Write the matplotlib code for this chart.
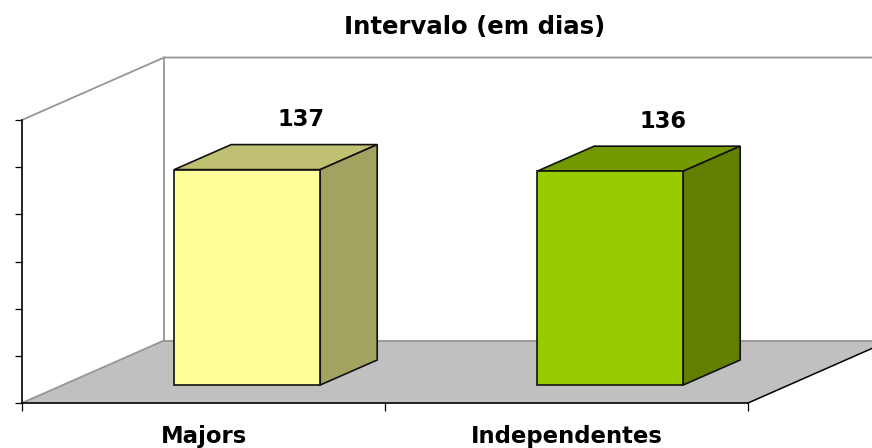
import matplotlib
matplotlib.use("Agg")
import matplotlib.pyplot as plt
from matplotlib.patches import Polygon

# Data
categories = ["Majors", "Independentes"]
values = [137, 136]
front_colors = ["#FFFF99", "#99CC00"]
top_colors = ["#C0C073", "#739900"]
side_colors = ["#A3A361", "#627F00"]
y_ticks = [0, 30, 60, 90, 120, 150, 180]

W, H = 872, 448
fig = plt.figure(figsize=(W / 100, H / 100), dpi=100)
ax = fig.add_axes([22 / W, 1 - 403 / H, 726 / W, 283 / H])
ax.set_xlim(-0.5, 1.5)
ax.set_ylim(0, 180)
ax.patch.set_visible(False)

# depth of the fake 3D box, in data units
depth_x = 142 / 363
depth_y = 62.5 * 180 / 283
bar_w = 146 / 363
bar_shift = 43.7 / 363
bar_lift = 18 * 180 / 283
bar_dx = 57 / 363
bar_dy = 25 * 180 / 283


def poly(pts, **kw):
    p = Polygon(pts, closed=True, clip_on=False, **kw)
    ax.add_patch(p)


# floor and walls
x0, x1 = ax.get_xlim()
poly([(x0, 0), (x1, 0), (x1 + depth_x, depth_y), (x0 + depth_x, depth_y)],
     facecolor="#C0C0C0", edgecolor="none", zorder=1)
wall = "#969696"
ax.plot([x0, x0 + depth_x, x0 + depth_x], [0, depth_y, 180 + depth_y],
        color=wall, lw=1.3, clip_on=False, zorder=2)
ax.plot([x0, x0 + depth_x, x1 + depth_x], [180, 180 + depth_y, 180 + depth_y],
        color=wall, lw=1.3, clip_on=False, zorder=2)
ax.plot([x0 + depth_x, x1 + depth_x], [depth_y, depth_y],
        color=wall, lw=1.3, clip_on=False, zorder=2)
ax.plot([x1, x1 + depth_x], [0, depth_y], color="black", lw=1.1,
        clip_on=False, zorder=2)

# bars
for i, v in enumerate(values):
    l = i - bar_w / 2 + bar_shift
    r = l + bar_w
    b = bar_lift
    t = bar_lift + v
    style = dict(edgecolor="#111111", lw=1.2, joinstyle="miter", zorder=3)
    poly([(l, t), (r, t), (r + bar_dx, t + bar_dy), (l + bar_dx, t + bar_dy)],
         facecolor=top_colors[i], **style)
    poly([(r, b), (r + bar_dx, b + bar_dy), (r + bar_dx, t + bar_dy), (r, t)],
         facecolor=side_colors[i], **style)
    poly([(l, b), (r, b), (r, t), (l, t)], facecolor=front_colors[i], **style)
    ax.annotate(str(v), (i, v), xytext=(97, 61.5), textcoords="offset pixels",
                ha="center", va="baseline", fontsize=16.3, fontweight="bold",
                annotation_clip=False, zorder=4)

# axes
ax.spines["top"].set_visible(False)
ax.spines["right"].set_visible(False)
for s in ("left", "bottom"):
    ax.spines[s].set_linewidth(1.2)
    ax.spines[s].set_zorder(5)
ax.set_yticks(y_ticks)
ax.set_yticklabels([])
ax.set_xticks([-0.5, 0.5, 1.5])
ax.set_xticklabels([])
ax.tick_params(axis="y", length=5, width=0.9)
ax.tick_params(axis="x", length=6, width=0.9)

for i, c in enumerate(categories):
    ax.annotate(c, (i, 0), xytext=(0, -40), textcoords="offset pixels",
                ha="center", va="baseline", fontsize=16.4, fontweight="bold",
                annotation_clip=False)

fig.text(474.5 / W, 1 - 34 / H, "Intervalo (em dias)", ha="center", va="baseline",
         fontsize=17.6, fontweight="bold")

fig.savefig("out.png", dpi=100)
